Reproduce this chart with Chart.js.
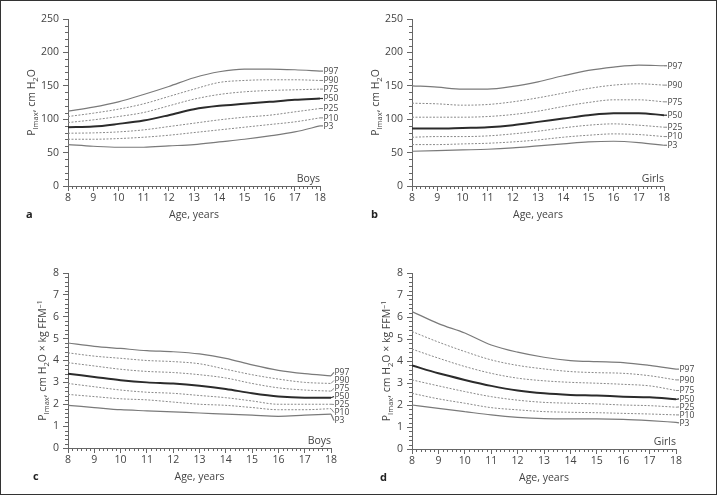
<!DOCTYPE html>
<html>
<head>
<meta charset="utf-8">
<script src="https://cdn.jsdelivr.net/npm/chart.js@4"></script>
<style>
  html, body { margin: 0; padding: 0; background: #fff; }
  #fig { position: relative; width: 717px; height: 495px; overflow: hidden; }
  #fig canvas { position: absolute; }
  #frame { position: absolute; left: 0; top: 0; width: 717px; height: 495px;
           box-sizing: border-box; border: 1px solid #333; pointer-events: none; }
</style>
</head>
<body>
<div id="fig">
  <canvas id="ca" width="358" height="245" style="left:0;top:0"></canvas>
  <canvas id="cb" width="359" height="245" style="left:358px;top:0"></canvas>
  <canvas id="cc" width="358" height="250" style="left:0;top:245px"></canvas>
  <canvas id="cd" width="359" height="250" style="left:358px;top:245px"></canvas>
  <div id="frame"></div>
</div>
<script>
const ages = [8, 9, 10, 11, 12, 13, 14, 15, 16, 17, 18];
const centiles = ["P97", "P90", "P75", "P50", "P25", "P10", "P3"];

// a: PImax boys, cm H2O
const aP97 = [112, 118, 126, 137, 149, 162, 171, 175, 175, 174, 172];
const aP90 = [104, 109, 115, 123, 134, 145, 155, 158, 159, 159, 158];
const aP75 = [95, 99, 104, 110, 120, 130, 137, 141, 143, 144, 145];
const aP50 = [88, 89, 93, 98, 106, 115, 120, 123, 126, 129, 131];
const aP25 = [79, 79.5, 81, 84, 89, 94, 99, 103, 106, 111, 116];
const aP10 = [70, 70, 71, 73, 76, 80, 84, 88, 92, 96, 102];
const aP3  = [62, 59.5, 58, 58, 60, 62, 66, 70, 75, 81, 90];

// b: PImax girls, cm H2O
const bP97 = [150, 148, 145, 145, 149, 156, 165, 173, 178, 181, 180];
const bP90 = [124, 123, 121, 122, 126, 132, 139, 146, 151, 153, 151];
const bP75 = [103, 103, 103, 104, 107, 112, 119, 125, 129, 129, 126];
const bP50 = [86, 86, 87, 88, 91, 96, 101, 106, 109, 109, 106];
const bP25 = [73, 74, 74, 75, 78, 82, 87, 91, 93, 91, 88];
const bP10 = [62, 62, 63, 64, 66, 69, 73, 76, 78, 77, 74];
const bP3  = [52, 53, 54, 55, 57, 60, 63, 66, 67, 65, 61];

// c: PImax boys per kg FFM
const cP97 = [4.8, 4.65, 4.55, 4.45, 4.4, 4.3, 4.1, 3.8, 3.55, 3.4, 3.3];
const cP90 = [4.35, 4.2, 4.1, 4.0, 3.95, 3.85, 3.6, 3.35, 3.15, 3.0, 2.95];
const cP75 = [3.9, 3.75, 3.6, 3.5, 3.45, 3.35, 3.2, 2.95, 2.75, 2.65, 2.6];
const cP50 = [3.4, 3.25, 3.1, 3.0, 2.95, 2.85, 2.7, 2.5, 2.35, 2.3, 2.3];
const cP25 = [2.95, 2.8, 2.65, 2.55, 2.5, 2.4, 2.3, 2.15, 2.0, 2.0, 2.0];
const cP10 = [2.45, 2.35, 2.25, 2.2, 2.1, 2.0, 1.95, 1.85, 1.75, 1.75, 1.8];
const cP3  = [1.95, 1.85, 1.75, 1.7, 1.65, 1.6, 1.55, 1.5, 1.45, 1.5, 1.55];

// d: PImax girls per kg FFM
const dP97 = [6.25, 5.7, 5.27, 4.73, 4.4, 4.17, 4.02, 3.97, 3.93, 3.8, 3.63];
const dP90 = [5.34, 4.86, 4.43, 4.05, 3.8, 3.64, 3.52, 3.47, 3.44, 3.33, 3.14];
const dP75 = [4.54, 4.13, 3.75, 3.44, 3.22, 3.1, 3.03, 2.99, 2.94, 2.87, 2.66];
const dP50 = [3.8, 3.44, 3.14, 2.87, 2.66, 2.53, 2.46, 2.43, 2.38, 2.35, 2.26];
const dP25 = [3.14, 2.87, 2.61, 2.38, 2.22, 2.12, 2.08, 2.05, 2.0, 1.97, 1.9];
const dP10 = [2.53, 2.28, 2.08, 1.88, 1.78, 1.7, 1.67, 1.65, 1.62, 1.59, 1.55];
const dP3  = [2.0, 1.85, 1.7, 1.55, 1.44, 1.38, 1.37, 1.37, 1.35, 1.29, 1.21];

const FONT = "'Open Sans', 'Noto Sans', sans-serif";
const TXT = "#444";
const AXIS = "#666";

const titleAbs = [["P", 0], ["Imax", 1], [", cm H", 0], ["2", 1], ["O", 0]];
const titleRel = [["P", 0], ["Imax", 1], [", cm H", 0], ["2", 1], ["O \u00d7 kg FFM", 0], ["\u20131", -1]];

// line look per centile: outer solid, median bold, rest dotted
function lineStyle(name) {
  if (name === "P50") return { color: "#2b2b2b", width: 2, dash: [] };
  if (name === "P97" || name === "P3") return { color: "#7a7a7a", width: 1.2, dash: [] };
  return { color: "#8a8a8a", width: 1, dash: [2, 1.5] };
}

function drawRich(ctx, parts, size) {
  let total = 0;
  const w = parts.map(([t, s]) => {
    ctx.font = (s ? size * 0.72 : size) + "px " + FONT;
    const m = ctx.measureText(t).width;
    total += m;
    return m;
  });
  let x = -total / 2;
  parts.forEach(([t, s], i) => {
    ctx.font = (s ? size * 0.72 : size) + "px " + FONT;
    const dy = s === 1 ? size * 0.3 : s === -1 ? -size * 0.4 : 0;
    ctx.fillText(t, x, size * 0.36 + dy);
    x += w[i];
  });
}

function makeDecor(cfg) {
  return {
    id: "decor",
    afterDraw(chart) {
      const { ctx, chartArea: ca, scales: { x, y } } = chart;
      ctx.save();

      // minor ticks
      ctx.strokeStyle = AXIS;
      ctx.lineWidth = 1;
      ctx.beginPath();
      for (let k = 0; k <= 60; k++) {
        if (k % 6 === 0) continue;
        const px = Math.round(x.getPixelForValue(8 + k / 6)) + 0.5;
        ctx.moveTo(px, ca.bottom);
        ctx.lineTo(px, ca.bottom + 3);
      }
      const n = Math.round(cfg.ymax / cfg.minor);
      const per = Math.round(cfg.step / cfg.minor);
      for (let k = 0; k <= n; k++) {
        if (k % per === 0) continue;
        const py = Math.round(y.getPixelForValue(k * cfg.minor)) + 0.5;
        ctx.moveTo(ca.left, py);
        ctx.lineTo(ca.left - 3, py);
      }
      ctx.stroke();

      // end labels, spread so they don't collide
      const ends = chart.data.datasets.map((ds, i) => {
        const pts = chart.getDatasetMeta(i).data;
        return { i, y0: pts[pts.length - 1].y, name: ds.label };
      }).sort((p, q) => p.y0 - q.y0);
      let groups = ends.map(e => ({ items: [e], c: e.y0 }));
      const gap = cfg.gap;
      let merged = true;
      while (merged) {
        merged = false;
        for (let g = 0; g < groups.length - 1; g++) {
          const A = groups[g], B = groups[g + 1];
          const aEnd = A.c + (A.items.length - 1) * gap / 2;
          const bStart = B.c - (B.items.length - 1) * gap / 2;
          if (bStart - aEnd < gap) {
            const items = A.items.concat(B.items);
            const c = items.reduce((s, e) => s + e.y0, 0) / items.length;
            groups.splice(g, 2, { items, c });
            merged = true;
            break;
          }
        }
      }
      ctx.font = "8.5px " + FONT;
      ctx.fillStyle = TXT;
      ctx.textAlign = "left";
      ctx.textBaseline = "middle";
      groups.forEach(G => {
        G.items.forEach((e, k) => {
          const ly = G.c + (k - (G.items.length - 1) / 2) * gap;
          const st = lineStyle(e.name);
          ctx.strokeStyle = st.color;
          ctx.lineWidth = Math.min(st.width, 1.2);
          ctx.setLineDash([]);
          ctx.beginPath();
          ctx.moveTo(ca.right, e.y0);
          ctx.lineTo(ca.right + 3, ly);
          ctx.stroke();
          ctx.fillText(e.name, ca.right + 3.5, ly + 0.5);
        });
      });

      // sex label
      ctx.font = "10.5px " + FONT;
      ctx.textAlign = "right";
      ctx.textBaseline = "alphabetic";
      ctx.fillText(cfg.sex, ca.right, ca.bottom - 4);

      // x title
      ctx.textAlign = "center";
      ctx.fillText("Age, years", (ca.left + ca.right) / 2, ca.bottom + 32);

      // panel letter
      ctx.font = "bold 11px " + FONT;
      ctx.fillStyle = "#222";
      ctx.textAlign = "left";
      ctx.fillText(cfg.letter, cfg.letterX, ca.bottom + 32);

      // y title with sub/superscripts
      ctx.fillStyle = TXT;
      ctx.textAlign = "left";
      ctx.translate(ca.left - cfg.titleOff, (ca.top + ca.bottom) / 2);
      ctx.rotate(-Math.PI / 2);
      drawRich(ctx, cfg.title, 10.5);
      ctx.restore();
    }
  };
}

function makePanel(id, series, cfg) {
  const datasets = series.map((vals, i) => {
    const st = lineStyle(centiles[i]);
    return {
      label: centiles[i],
      data: ages.map((a, k) => ({ x: a, y: vals[k] })),
      borderColor: st.color,
      borderWidth: st.width,
      borderDash: st.dash,
      pointRadius: 0,
      fill: false,
      cubicInterpolationMode: "monotone",
    };
  });
  new Chart(document.getElementById(id), {
    type: "line",
    data: { datasets },
    options: {
      responsive: false,
      animation: false,
      events: [],
      layout: { padding: { top: cfg.top, right: cfg.right, left: 0, bottom: 0 } },
      plugins: { legend: { display: false }, tooltip: { enabled: false } },
      scales: {
        x: {
          type: "linear", min: 8, max: 18,
          ticks: { stepSize: 1, color: TXT, font: { family: FONT, size: 10.5 }, padding: 1, maxRotation: 0 },
          grid: { drawOnChartArea: false, tickLength: 5, color: AXIS },
          border: { color: AXIS },
          afterFit: s => { s.height = cfg.xh; },
        },
        y: {
          min: 0, max: cfg.ymax,
          ticks: { stepSize: cfg.step, color: TXT, font: { family: FONT, size: 10.5 }, padding: 4 },
          grid: { drawOnChartArea: false, tickLength: 5, color: AXIS },
          border: { color: AXIS },
          afterFit: s => { s.width = cfg.yw; },
        },
      },
    },
    plugins: [makeDecor(cfg)],
  });
}

makePanel("ca", [aP97, aP90, aP75, aP50, aP25, aP10, aP3],
  { top: 19, right: 38, xh: 59, yw: 68, ymax: 250, step: 50, minor: 10, gap: 8,
    sex: "Boys", letter: "a", letterX: 26, titleOff: 37, title: titleAbs });
makePanel("cb", [bP97, bP90, bP75, bP50, bP25, bP10, bP3],
  { top: 19, right: 53, xh: 59, yw: 54, ymax: 250, step: 50, minor: 10, gap: 8,
    sex: "Girls", letter: "b", letterX: 13, titleOff: 37, title: titleAbs });
makePanel("cc", [cP97, cP90, cP75, cP50, cP25, cP10, cP3],
  { top: 28, right: 27, xh: 47, yw: 68, ymax: 8, step: 1, minor: 0.2, gap: 8,
    sex: "Boys", letter: "c", letterX: 33, titleOff: 26, title: titleRel });
makePanel("cd", [dP97, dP90, dP75, dP50, dP25, dP10, dP3],
  { top: 28, right: 41, xh: 46, yw: 54, ymax: 8, step: 1, minor: 0.2, gap: 8,
    sex: "Girls", letter: "d", letterX: 22, titleOff: 26, title: titleRel });
</script>
</body>
</html>
